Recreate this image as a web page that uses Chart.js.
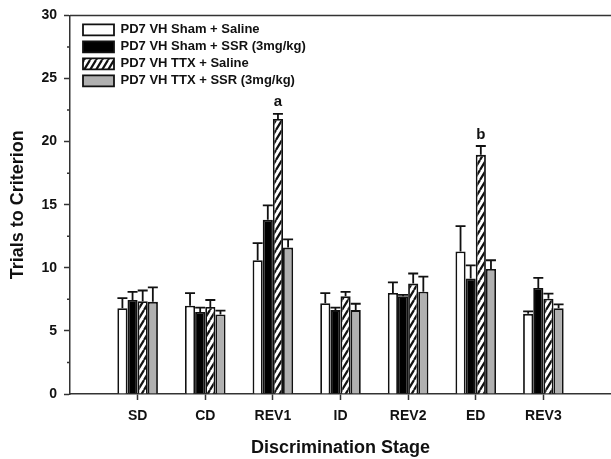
<!DOCTYPE html>
<html>
<head>
<meta charset="utf-8">
<script src="https://cdn.jsdelivr.net/npm/chart.js@4.4.0/dist/chart.umd.min.js"></script>
<style>
  html, body { margin: 0; padding: 0; background: #fff; }
  canvas { display: block; }
</style>
</head>
<body>
<canvas id="trialsChart" width="611" height="459"></canvas>
<script>
// blank slots at both ends so the stages sit at 1..7 on a 0..8 axis
const stages = ['', 'SD', 'CD', 'REV1', 'ID', 'REV2', 'ED', 'REV3', ''];

const shamSaline    = [null, 6.8, 7.0, 10.6, 7.2, 8.0, 11.3, 6.35, null];
const shamSalineErr = [null, 0.8, 1.0, 1.35, 0.8, 0.85, 2.0, 0.2, null];
const shamSsr       = [null, 7.45, 6.5, 13.8, 6.65, 7.75, 9.15, 8.4, null];
const shamSsrErr    = [null, 0.65, 0.35, 1.15, 0.2, 0.1, 1.05, 0.8, null];
const ttxSaline     = [null, 7.35, 6.9, 21.8, 7.75, 8.75, 18.95, 7.55, null];
const ttxSalineErr  = [null, 0.85, 0.55, 0.4, 0.35, 0.8, 0.7, 0.4, null];
const ttxSsr        = [null, 7.3, 6.3, 11.6, 6.65, 8.1, 9.9, 6.8, null];
const ttxSsrErr     = [null, 1.15, 0.3, 0.65, 0.5, 1.2, 0.7, 0.3, null];
const ttxSalineMarks = ['', '', '', 'a', '', '', 'b', '', ''];

const yMax = 30;
const yStep = 5;

Chart.defaults.font.family = '"Liberation Sans", Arial, sans-serif';
Chart.defaults.color = '#111';

function hatch() {
    let w = 6, h = 10;
    let c = document.createElement('canvas');
    c.width = w; c.height = h;
    let g = c.getContext('2d');
    g.fillStyle = '#fff';
    g.fillRect(0, 0, w, h);
    g.strokeStyle = '#111';
    g.lineWidth = 2.2;
    g.beginPath();
    g.moveTo(0, h); g.lineTo(w, 0);
    g.moveTo(-w, h); g.lineTo(0, 0);
    g.moveTo(w, h); g.lineTo(2 * w, 0);
    g.stroke();
    return g.createPattern(c, 'repeat');
}

// error bars (upper half only) plus the significance letters
const errorBars = {
    id: 'errorBars',
    afterDatasetsDraw(chart) {
        let ctx = chart.ctx, y = chart.scales.y;
        ctx.save();
        ctx.strokeStyle = '#111';
        ctx.lineWidth = 1.8;
        ctx.fillStyle = '#111';
        ctx.font = 'bold 15px "Liberation Sans", Arial, sans-serif';
        ctx.textAlign = 'center';
        ctx.textBaseline = 'bottom';
        chart.data.datasets.forEach((ds, i) => {
            chart.getDatasetMeta(i).data.forEach((bar, j) => {
                let v = ds.data[j], e = ds.errors[j];
                if (v == null || e == null) return;
                let top = y.getPixelForValue(v + e);
                ctx.beginPath();
                ctx.moveTo(bar.x, bar.y);
                ctx.lineTo(bar.x, top);
                ctx.moveTo(bar.x - 5, top);
                ctx.lineTo(bar.x + 5, top);
                ctx.stroke();
                if (ds.marks && ds.marks[j]) {
                    ctx.fillText(ds.marks[j], bar.x, top - 4);
                }
            });
        });
        ctx.restore();
    }
};

// frame line on top and the short minor ticks on the y axis
const frame = {
    id: 'frame',
    afterDraw(chart) {
        let ctx = chart.ctx, a = chart.chartArea, y = chart.scales.y;
        ctx.save();
        ctx.strokeStyle = '#333';
        ctx.lineWidth = 1.5;
        ctx.beginPath();
        ctx.moveTo(a.left, a.top);
        ctx.lineTo(a.right, a.top);
        for (let v = yStep / 2; v < yMax; v += yStep) {
            let py = y.getPixelForValue(v);
            ctx.moveTo(a.left, py);
            ctx.lineTo(a.left - 3, py);
        }
        ctx.stroke();
        ctx.restore();
    }
};

const legendNudge = {
    id: 'legendNudge',
    afterLayout(chart) {
        chart.legend.left = chart.chartArea.left + 9;
        chart.legend.top = chart.chartArea.top + 4;
    }
};

new Chart(document.getElementById('trialsChart'), {
    type: 'bar',
    data: {
        labels: stages,
        datasets: [{
            label: 'PD7 VH Sham + Saline',
            data: shamSaline,
            errors: shamSalineErr,
            backgroundColor: '#fff',
            borderColor: '#111',
            borderWidth: 1.8
        }, {
            label: 'PD7 VH Sham + SSR (3mg/kg)',
            data: shamSsr,
            errors: shamSsrErr,
            backgroundColor: '#000',
            borderColor: '#111',
            borderWidth: 1.8
        }, {
            label: 'PD7 VH TTX + Saline',
            data: ttxSaline,
            errors: ttxSalineErr,
            marks: ttxSalineMarks,
            backgroundColor: hatch(),
            borderColor: '#111',
            borderWidth: 1.8
        }, {
            label: 'PD7 VH TTX + SSR (3mg/kg)',
            data: ttxSsr,
            errors: ttxSsrErr,
            backgroundColor: '#b0b0b0',
            borderColor: '#111',
            borderWidth: 1.8
        }]
    },
    options: {
        responsive: false,
        animation: false,
        events: [],
        categoryPercentage: 0.6,
        barPercentage: 1,
        layout: { padding: { top: 14, right: 0, bottom: 0, left: 0 } },
        plugins: {
            legend: {
                position: 'chartArea',
                align: 'start',
                labels: {
                    boxWidth: 31,
                    boxHeight: 11,
                    padding: 4,
                    color: '#111',
                    font: { size: 13, weight: 'bold' }
                }
            },
            tooltip: { enabled: false }
        },
        scales: {
            x: {
                offset: false,
                grid: {
                    offset: false,
                    drawOnChartArea: false,
                    tickLength: 6,
                    tickWidth: 1.5,
                    tickColor: ctx => (ctx.index === 0 || ctx.index === stages.length - 1) ? 'rgba(0,0,0,0)' : '#333'
                },
                border: { color: '#333', width: 1.5 },
                ticks: {
                    padding: 8,
                    maxRotation: 0,
                    autoSkip: false,
                    font: { size: 14, weight: 'bold' }
                },
                title: {
                    display: true,
                    text: 'Discrimination Stage',
                    padding: { top: 0, bottom: 0 },
                    font: { size: 18, weight: 'bold' }
                },
                afterFit: s => {
                    s.height = 65;
                    s.paddingLeft = 0;
                    s.paddingRight = 0;
                }
            },
            y: {
                min: 0,
                max: yMax,
                grid: {
                    drawOnChartArea: false,
                    tickLength: 6,
                    tickWidth: 1.5,
                    tickColor: '#333'
                },
                border: { color: '#333', width: 1.5 },
                ticks: {
                    stepSize: yStep,
                    padding: 7,
                    font: { size: 14, weight: 'bold' }
                },
                title: {
                    display: true,
                    text: 'Trials to Criterion',
                    padding: { top: 7, bottom: 0 },
                    font: { size: 18, weight: 'bold' }
                },
                afterFit: s => { s.width = 70; }
            }
        }
    },
    plugins: [errorBars, frame, legendNudge]
});
</script>
</body>
</html>
